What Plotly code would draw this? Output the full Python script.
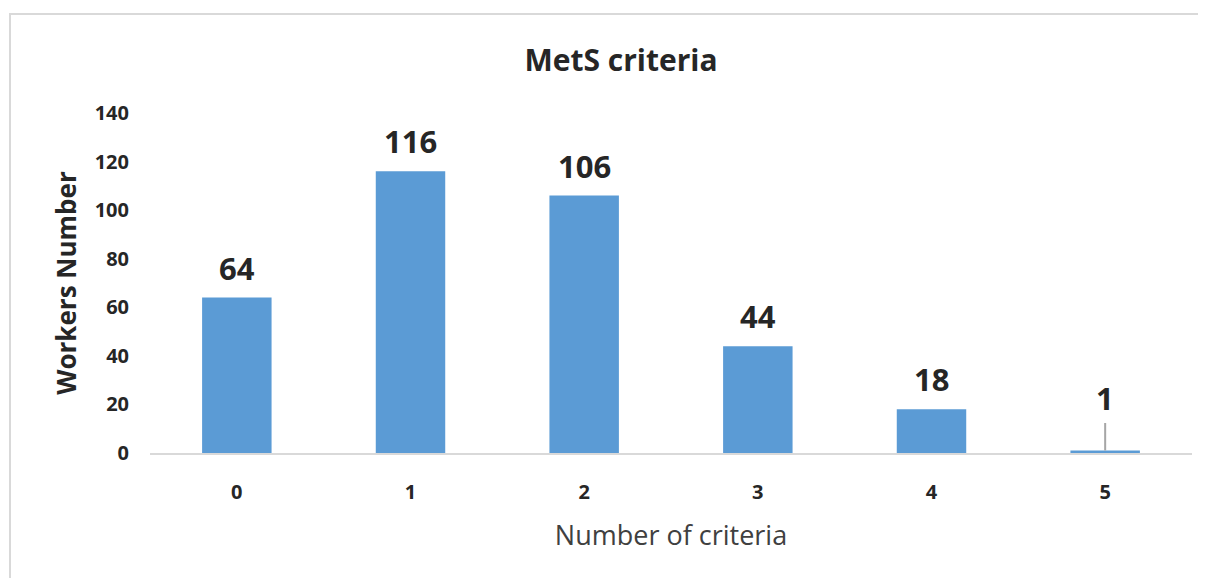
import plotly.graph_objects as go

categories = ["0", "1", "2", "3", "4", "5"]
workers = [64, 116, 106, 44, 18, 1]
y_ticks = [0, 20, 40, 60, 80, 100, 120, 140]

OFF = 8  # page body margin
W, H = 1206 - OFF, 578 - OFF
L, R, T, B = 150 - OFF, 14, 113 - OFF, 125
pw, ph = W - L - R, H - T - B

FONT = "Open Sans"
DARK = "#262626"
GREY = "#404040"

fig = go.Figure()
fig.add_trace(go.Bar(
    x=categories, y=workers,
    marker=dict(color="#5B9BD5", line=dict(width=0)),
    width=0.4, hoverinfo="x+y",
))

annotations = []
for c, v in zip(categories, workers):
    if v < 5:
        annotations.append(dict(
            x=c, y=v, xref="x", yref="y", text="<b>%d</b>" % v,
            showarrow=True, arrowhead=0, arrowwidth=2, arrowcolor="#A6A6A6",
            ax=0, ay=-53, borderpad=4,
            font=dict(family=FONT, size=31, color=DARK),
        ))
    else:
        annotations.append(dict(
            x=c, y=v, xref="x", yref="y", text="<b>%d</b>" % v,
            showarrow=False, yanchor="middle", yshift=30,
            font=dict(family=FONT, size=31, color=DARK),
        ))

fig.update_layout(
    width=W, height=H,
    margin=dict(l=L, r=R, t=T, b=B, pad=0),
    paper_bgcolor="white", plot_bgcolor="white",
    showlegend=False,
    title=dict(text="<b>MetS criteria</b>", x=(621 - OFF) / W, xanchor="center",
               y=1 - (60 - OFF) / H, yanchor="middle",
               font=dict(family=FONT, size=30, color=DARK)),
    xaxis=dict(
        type="category", showgrid=False, zeroline=False,
        showline=True, linecolor="#D9D9D9", linewidth=2,
        ticks="", tickfont=dict(family=FONT, size=20, color=DARK, weight="bold"),
        ticklabelstandoff=20,
        title=dict(text="Number of criteria", standoff=22,
                   font=dict(family=FONT, size=27, color=GREY)),
    ),
    yaxis=dict(
        range=[0, 140], tickvals=y_ticks, showgrid=False, zeroline=False,
        showline=False, ticks="",
        tickfont=dict(family=FONT, size=20, color=DARK, weight="bold"),
        ticklabelstandoff=20,
        title=dict(text="<b>Workers Number</b>", standoff=10,
                   font=dict(family=FONT, size=26, color=DARK)),
    ),
    annotations=annotations,
    shapes=[dict(
        type="rect", xref="paper", yref="paper",
        x0=(10 - 150) / pw, x1=(W + 20 - L) / pw,
        y0=-(B + 20) / ph, y1=(453 - 14) / ph,
        line=dict(color="#D9D9D9", width=2), fillcolor="rgba(0,0,0,0)",
        layer="below",
    )],
)

fig.write_html("out.html")
